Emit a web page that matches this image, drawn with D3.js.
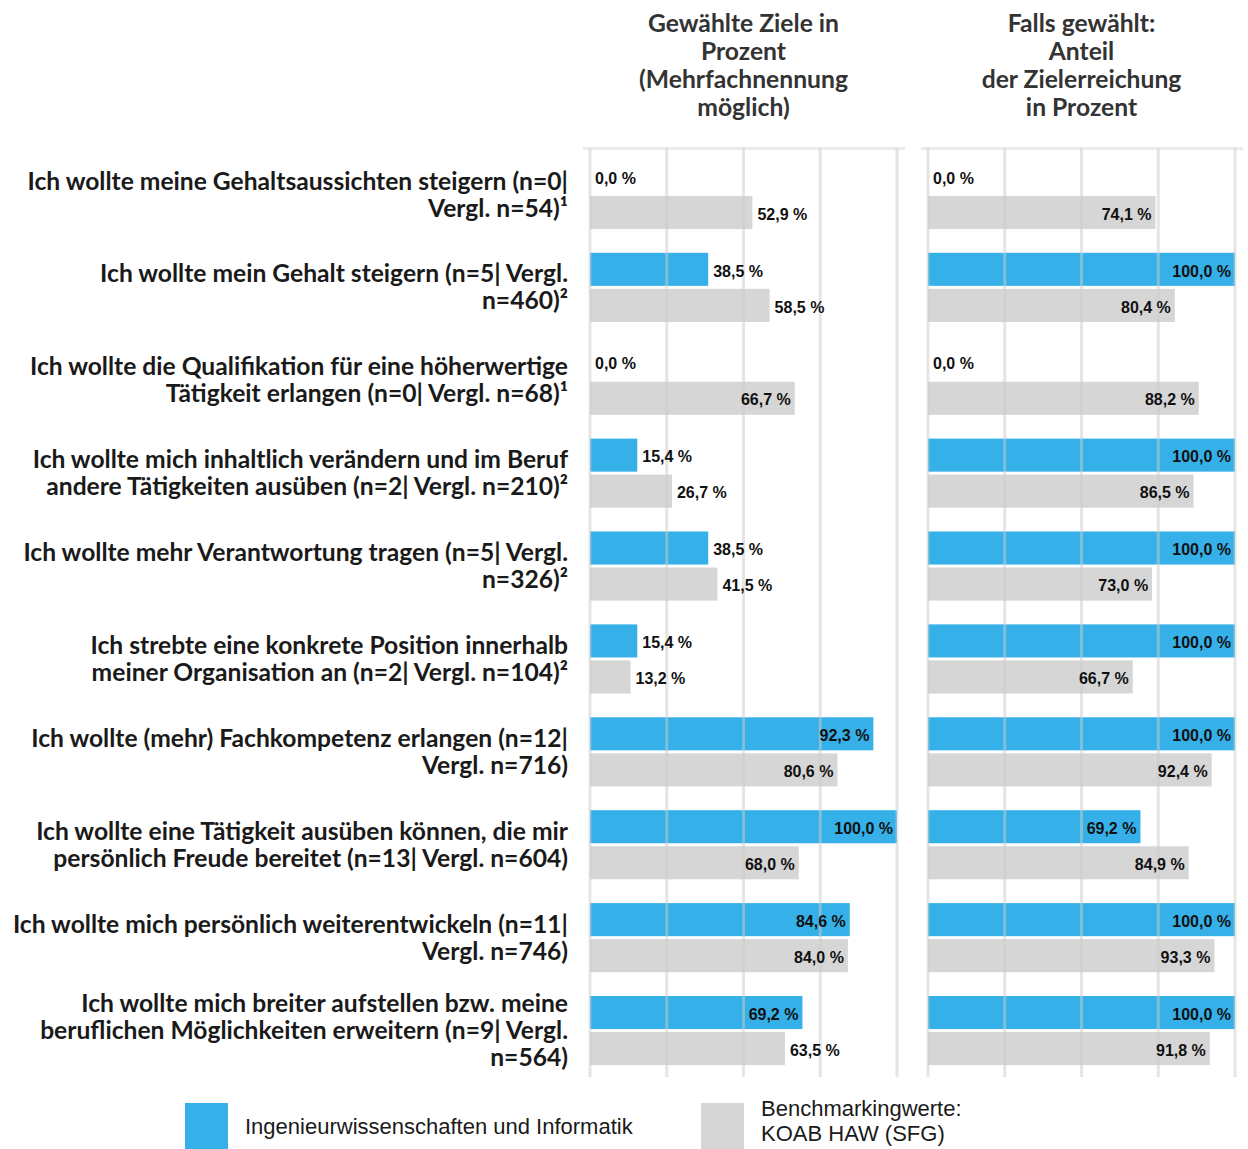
<!DOCTYPE html>
<html>
<head>
<meta charset="utf-8">
<script src="https://cdn.jsdelivr.net/npm/d3@7"></script>
<style>
  html, body { margin: 0; padding: 0; background: #fff; }
  #viz svg { display: block; }
</style>
</head>
<body>
<div id="viz"></div>
<script>
const goals = [
    ["Ich wollte meine Gehaltsaussichten steigern (n=0|", "Vergl. n=54)¹"],
    ["Ich wollte mein Gehalt steigern (n=5| Vergl.", "n=460)²"],
    ["Ich wollte die Qualifikation für eine höherwertige", "Tätigkeit erlangen (n=0| Vergl. n=68)¹"],
    ["Ich wollte mich inhaltlich verändern und im Beruf", "andere Tätigkeiten ausüben (n=2| Vergl. n=210)²"],
    ["Ich wollte mehr Verantwortung tragen (n=5| Vergl.", "n=326)²"],
    ["Ich strebte eine konkrete Position innerhalb", "meiner Organisation an (n=2| Vergl. n=104)²"],
    ["Ich wollte (mehr) Fachkompetenz erlangen (n=12|", "Vergl. n=716)"],
    ["Ich wollte eine Tätigkeit ausüben können, die mir", "persönlich Freude bereitet (n=13| Vergl. n=604)"],
    ["Ich wollte mich persönlich weiterentwickeln (n=11|", "Vergl. n=746)"],
    ["Ich wollte mich breiter aufstellen bzw. meine", "beruflichen Möglichkeiten erweitern (n=9| Vergl.", "n=564)"]
];

// Gewählte Ziele (Mehrfachnennung)
const chosenIng   = [0.0, 38.5, 0.0, 15.4, 38.5, 15.4, 92.3, 100.0, 84.6, 69.2];
const chosenBench = [52.9, 58.5, 66.7, 26.7, 41.5, 13.2, 80.6, 68.0, 84.0, 63.5];

// Falls gewählt: Anteil der Zielerreichung
const reachedIng   = [0.0, 100.0, 0.0, 100.0, 100.0, 100.0, 100.0, 69.2, 100.0, 100.0];
const reachedBench = [74.1, 80.4, 88.2, 86.5, 73.0, 66.7, 92.4, 84.9, 93.3, 91.8];

const panelTitles = [
    ["Gewählte Ziele in", "Prozent", "(Mehrfachnennung", "möglich)"],
    ["Falls gewählt:", "Anteil", "der Zielerreichung", "in Prozent"]
];
const legendItems = [
    ["Ingenieurwissenschaften und Informatik"],
    ["Benchmarkingwerte:", "KOAB HAW (SFG)"]
];
const gridTicks = [0, 25, 50, 75, 100];

const colors = ["#35b0e8", "#d6d6d6"];
const series = ["ing", "bench"];

const width = 1248;
const height = 1149;
const labelFont = "Lato, 'Open Sans', sans-serif";
const numFont = "'Liberation Sans', Arial, sans-serif";

const svg = d3.select("#viz").append("svg")
    .attr("width", width)
    .attr("height", height);

// size a bold font so that a sample line matches the width seen in the original
function fitSize(sample, family, target) {
    const t = svg.append("text")
        .style("font-family", family)
        .style("font-weight", 700)
        .style("font-size", "100px")
        .text(sample);
    const w = t.node().getComputedTextLength();
    t.remove();
    return 100 * target / w;
}
const labelSize = fitSize(goals[0][0], labelFont, 541);
const titleSize = fitSize(panelTitles[0][2], labelFont, 209);

const yScale = d3.scaleBand()
    .domain(goals.map((d, i) => i))
    .range([148, 1077]);

const ySub = d3.scaleBand()
    .domain(series)
    .range([0, yScale.bandwidth()])
    .paddingInner(0.083)
    .paddingOuter(0.33);

const panels = [
    { x: d3.scaleLinear([0, 100], [590, 897]), a: chosenIng, b: chosenBench, title: panelTitles[0] },
    { x: d3.scaleLinear([0, 100], [928, 1235]), a: reachedIng, b: reachedBench, title: panelTitles[1] }
];

const fmt = v => d3.format(".1f")(v).replace(".", ",") + " %";
const rowData = (p, i) => [{ s: "ing", v: p.a[i], i }, { s: "bench", v: p.b[i], i }];

panels.forEach(p => {
    const g = svg.append("g");
    const x = p.x;

    // top line
    g.append("line")
        .attr("x1", x(0) - 7)
        .attr("x2", x(100) + 8)
        .attr("y1", 148.5)
        .attr("y2", 148.5)
        .attr("stroke", "#ebebeb")
        .attr("stroke-width", 3);

    const cells = goals.flatMap((d, i) => rowData(p, i));

    g.selectAll(".bar")
        .data(cells)
        .join("rect")
            .attr("class", "bar")
            .attr("x", x(0))
            .attr("y", d => yScale(d.i) + ySub(d.s))
            .attr("width", d => x(d.v) - x(0))
            .attr("height", ySub.bandwidth())
            .attr("fill", d => d.s === "ing" ? colors[0] : colors[1]);

    // grid lines on top of the bars, slightly see-through
    g.selectAll(".grid")
        .data(gridTicks)
        .join("line")
            .attr("class", "grid")
            .attr("x1", d => x(d))
            .attr("x2", d => x(d))
            .attr("y1", 148)
            .attr("y2", 1077)
            .attr("stroke", "#cccccc")
            .attr("stroke-opacity", 0.5)
            .attr("stroke-width", 3);

    g.selectAll(".val")
        .data(cells)
        .join("text")
            .attr("class", "val")
            .attr("x", d => d.v >= 65 ? x(d.v) - 4 : x(d.v) + 5)
            .attr("y", d => yScale(d.i) + ySub(d.s) + ySub.bandwidth() / 2)
            .attr("dy", "0.45em")
            .style("text-anchor", d => d.v >= 65 ? "end" : "start")
            .style("font-family", numFont)
            .style("font-weight", 700)
            .style("font-size", "16px")
            .style("fill", "#111")
            .text(d => fmt(d.v));

    // panel title
    g.selectAll(".title")
        .data(p.title)
        .join("text")
            .attr("class", "title")
            .attr("x", (x(0) + x(100)) / 2)
            .attr("y", (d, i) => 23 + i * 28)
            .attr("dy", "0.35em")
            .style("text-anchor", "middle")
            .style("font-family", labelFont)
            .style("font-weight", 700)
            .style("font-size", titleSize + "px")
            .style("fill", "#333")
            .text(d => d);
});

// category labels
const lineH = 27;
svg.selectAll(".goal")
    .data(goals)
    .join("text")
        .attr("class", "goal")
        .style("text-anchor", "end")
        .style("font-family", labelFont)
        .style("font-weight", 700)
        .style("font-size", labelSize + "px")
        .style("fill", "#1a1a1a")
    .selectAll("tspan")
    .data((d, i) => d.map((line, j) => ({ line, j, n: d.length, i })))
    .join("tspan")
        .attr("x", 568)
        .attr("y", d => yScale(d.i) + yScale.bandwidth() / 2 + (d.j - (d.n - 1) / 2) * lineH)
        .attr("dy", "0.35em")
        .text(d => d.line);

// legend
const legendX = [185, 701];
const lg = svg.selectAll(".legend")
    .data(legendItems)
    .join("g")
        .attr("class", "legend")
        .attr("transform", (d, i) => `translate(${legendX[i]},1103)`);

lg.append("rect")
    .attr("width", 43)
    .attr("height", 46)
    .attr("fill", (d, i) => colors[i]);

lg.selectAll("text")
    .data(d => d.map((line, j) => ({ line, j, n: d.length })))
    .join("text")
        .attr("x", 60)
        .attr("y", d => (d.n > 1 ? 17.5 : 23) + (d.j - (d.n - 1) / 2) * 25)
        .attr("dy", "0.35em")
        .style("font-family", numFont)
        .style("font-size", "22px")
        .style("fill", "#1a1a1a")
        .text(d => d.line);
</script>
</body>
</html>
